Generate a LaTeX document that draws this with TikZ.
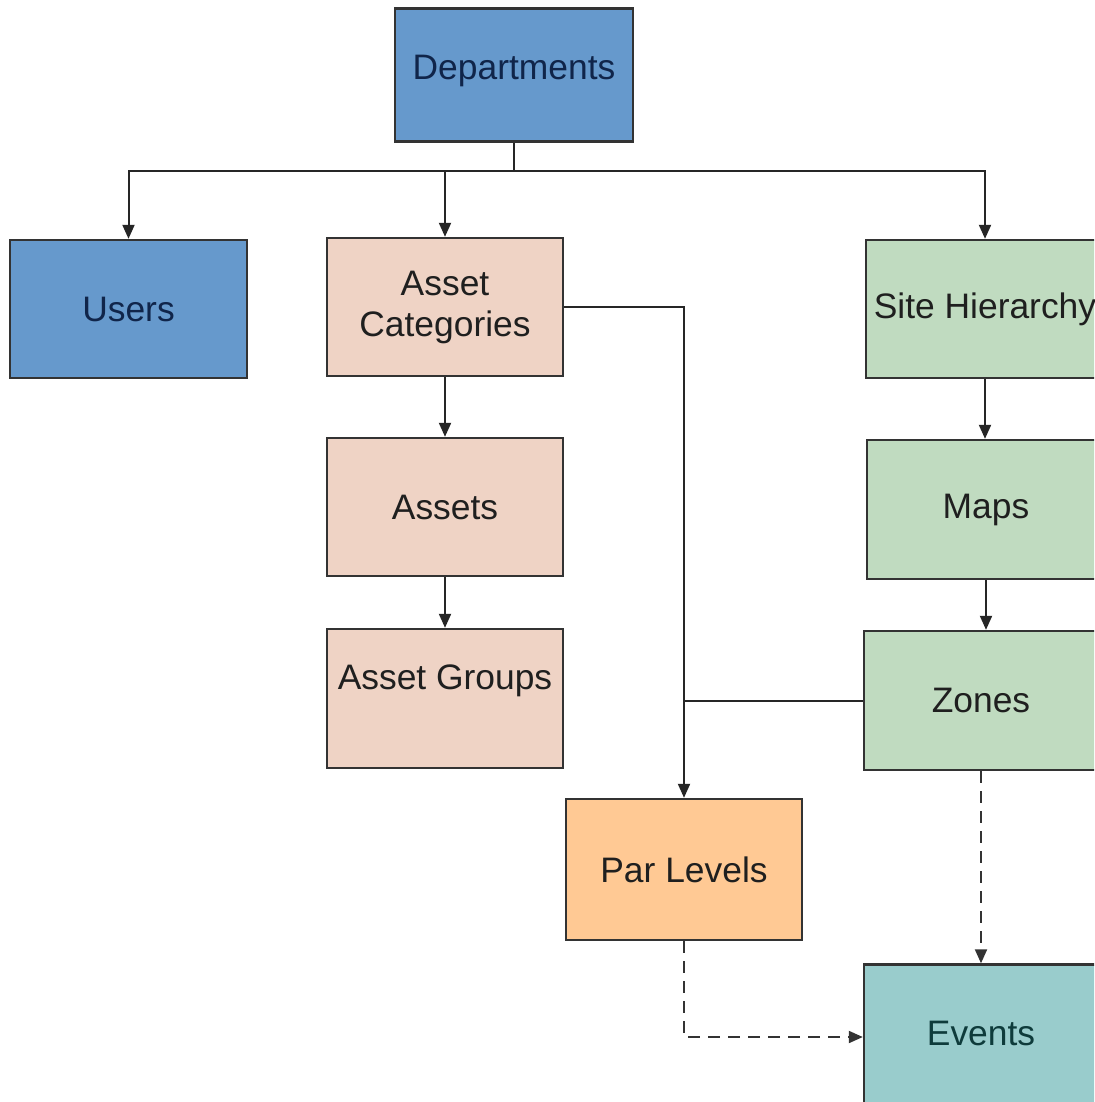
\documentclass[tikz,border=0pt]{standalone}
\usepackage{fontspec}
\setmainfont{Liberation Sans}
\usetikzlibrary{arrows.meta}

\definecolor{deptblue}{HTML}{6699CC}
\definecolor{assetpink}{HTML}{EFD3C5}
\definecolor{sitegreen}{HTML}{C0DBC0}
\definecolor{parpeach}{HTML}{FFC994}
\definecolor{eventteal}{HTML}{99CCCC}
\definecolor{edgegray}{HTML}{333333}
\definecolor{navytext}{HTML}{10254A}
\definecolor{tealtext}{HTML}{0E3B3B}

\tikzset{
  box/.style={draw=edgegray, line width=1.2pt, rectangle, inner sep=0pt,
    font=\fontsize{17.7}{20.5}\selectfont, align=center, text=black!88},
  txt/.style={inner sep=0pt, font=\fontsize{17.7}{20.5}\selectfont, align=center},
  tip/.style={-{Triangle[length=7pt,width=6pt]}},
  arr/.style={draw=black!85, line width=1pt, tip},
  link/.style={draw=black!85, line width=1pt},
  dlink/.style={draw=black!80, line width=1pt, dash pattern=on 6pt off 4pt}
}

\begin{document}
\begin{tikzpicture}[x=0.5pt, y=-0.5pt]
  \useasboundingbox (0,0) rectangle (1094,1102);
  \clip (0,0) rectangle (1094,1102);
  \fill[white] (0,0) rectangle (1094,1102);

  % top level
  \node[box, fill=deptblue, minimum width=119pt, minimum height=66.5pt,
        label={[txt, text=navytext, yshift=2pt]center:Departments}] (dep) at (514,75) {};

  % second row
  \node[box, fill=deptblue, text=navytext, minimum width=118.5pt, minimum height=69pt] (users) at (128.5,309) {Users};
  \node[box, fill=assetpink, minimum width=118pt, minimum height=69pt] (ac) at (445,307) {Asset\\Categories};
  \node[box, fill=sitegreen, minimum width=119pt, minimum height=69pt] (sh) at (985,309) {Site Hierarchy};

  % asset column
  \node[box, fill=assetpink, minimum width=118pt, minimum height=69pt] (assets) at (445,507) {Assets};
  \node[box, fill=assetpink, minimum width=118pt, minimum height=69.5pt,
        label={[txt, text=black!88, yshift=9pt]center:Asset Groups}] (ag) at (445,698.5) {};

  % site column
  \node[box, fill=sitegreen, minimum width=119pt, minimum height=69.5pt] (maps) at (986,509.5) {Maps};
  \node[box, fill=sitegreen, minimum width=117pt, minimum height=69.5pt] (zones) at (981,700.5) {Zones};

  % bottom
  \node[box, fill=parpeach, minimum width=118pt, minimum height=70.5pt] (pl) at (684,869.5) {Par Levels};
  \node[box, fill=eventteal, text=tealtext, minimum width=117pt, minimum height=72.5pt,
        label={[txt, text=tealtext, yshift=2pt]center:Events}] (ev) at (981,1037) {};

  % bus from Departments
  \coordinate (bus) at (514,171);
  \draw[link] (dep.south) -- (bus);
  \draw[arr] (bus) -| (users.north);
  \draw[arr] (bus) -| (ac.north);
  \draw[arr] (bus) -| (sh.north);

  % asset chain
  \draw[arr] (ac.south) -- (assets.north);
  \draw[arr] (assets.south) -- (ag.north);

  % site chain
  \draw[arr] (sh.south) -- (sh.south |- maps.north);
  \draw[arr] (maps.south) -- (maps.south |- zones.north);

  % par levels inputs
  \draw[arr] (ac.east) -| (pl.north);
  \draw[link] (zones.west) -- (zones.west -| pl.north);

  % events inputs
  \draw[dlink, tip] (zones.south) -- (ev.north);
  \draw[dlink, tip] (pl.south) |- (ev.west);
\end{tikzpicture}
\end{document}
